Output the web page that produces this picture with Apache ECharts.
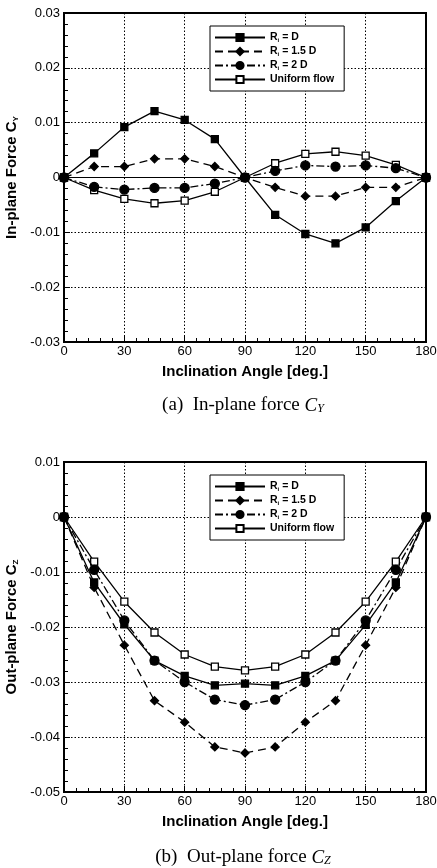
<!DOCTYPE html>
<html>
<head>
<meta charset="utf-8">
<script src="https://cdn.jsdelivr.net/npm/echarts@6/dist/echarts.min.js"></script>
<style>
  html, body { margin: 0; padding: 0; background: #fff; }
  #main { width: 437px; height: 868px; }
</style>
</head>
<body>
<div id="main"></div>
<script>
// 倾角数据
const angles = [0, 15, 30, 45, 60, 75, 90, 105, 120, 135, 150, 165, 180];

// (a) 面内力 C_Y
const cyRD   = [0, 0.0044, 0.0092, 0.0121, 0.0105, 0.0070, 0, -0.0068, -0.0103, -0.0120, -0.0091, -0.0043, 0];
const cyR15D = [0, 0.0020, 0.0020, 0.0034, 0.0034, 0.0020, 0, -0.0018, -0.0034, -0.0034, -0.0018, -0.0018, 0];
const cyR2D  = [0, -0.0017, -0.0022, -0.0019, -0.0019, -0.0011, 0, 0.0012, 0.0022, 0.0020, 0.0022, 0.0017, 0];
const cyUni  = [0, -0.0023, -0.0039, -0.0047, -0.0042, -0.0026, 0, 0.0026, 0.0043, 0.0047, 0.0040, 0.0023, 0];

// (b) 面外力 C_Z
const czRD   = [0, -0.0119, -0.0195, -0.0261, -0.0289, -0.0306, -0.0303, -0.0306, -0.0289, -0.0261, -0.0196, -0.0119, 0];
const czR15D = [0, -0.0128, -0.0233, -0.0334, -0.0373, -0.0418, -0.0429, -0.0418, -0.0373, -0.0334, -0.0233, -0.0128, 0];
const czR2D  = [0, -0.0096, -0.0188, -0.0261, -0.0300, -0.0332, -0.0342, -0.0332, -0.0300, -0.0261, -0.0188, -0.0096, 0];
const czUni  = [0, -0.0081, -0.0154, -0.0210, -0.0250, -0.0272, -0.0279, -0.0272, -0.0250, -0.0210, -0.0154, -0.0081, 0];

const seriesNames = ['Ri = D', 'Ri = 1.5 D', 'Ri = 2 D', 'Uniform flow'];
const legendLabels = {
  'Ri = D': '{b|R}{s|i}{b| = D}',
  'Ri = 1.5 D': '{b|R}{s|i}{b| = 1.5 D}',
  'Ri = 2 D': '{b|R}{s|i}{b| = 2 D}',
  'Uniform flow': '{b|Uniform flow}'
};

const FONT = 'Liberation Sans, Arial, sans-serif';
const SERIF = 'Liberation Serif, Times New Roman, serif';

const styles = [
  { symbol: 'rect', size: 7, fill: '#000', type: 'solid' },
  { symbol: 'diamond', size: 8, fill: '#000', type: [8, 5] },
  { symbol: 'circle', size: 9, fill: '#000', type: [8, 3, 2, 3] },
  { symbol: 'rect', size: 7, fill: '#fff', type: 'solid' }
];

const pairs = n => angles.map((a, i) => [a, n[i]]);

function makeSeries(dataSets, gi) {
  return dataSets.map((d, k) => ({
    name: seriesNames[k],
    type: 'line',
    xAxisIndex: gi,
    yAxisIndex: gi,
    data: pairs(d),
    symbol: styles[k].symbol,
    symbolSize: styles[k].size,
    showAllSymbol: true,
    lineStyle: { color: '#000', width: 1.3, type: styles[k].type },
    itemStyle: { color: styles[k].fill, borderColor: '#000', borderWidth: 1.3 },
    z: 10 - k,
    animation: false
  }));
}

function makeX(gi) {
  return {
    type: 'value', gridIndex: gi, min: 0, max: 180, interval: 30,
    name: 'Inclination Angle [deg.]', nameLocation: 'middle', nameGap: 22,
    nameTextStyle: { fontFamily: FONT, fontWeight: 'bold', fontSize: 15, color: '#000' },
    axisLine: { onZero: false, lineStyle: { color: '#000', width: 2 } },
    axisTick: { inside: true, length: 6, lineStyle: { color: '#000' } },
    minorTick: { show: true, splitNumber: 5, length: 4, lineStyle: { color: '#000' } },
    axisLabel: { fontFamily: FONT, fontSize: 13, color: '#000', margin: 3 },
    splitLine: { show: true, lineStyle: { color: '#000', type: [1.5, 2], width: 1 } }
  };
}

function makeY(gi, min, max, name) {
  return {
    type: 'value', gridIndex: gi, min: min, max: max, interval: 0.01,
    name: name, nameLocation: 'middle', nameGap: 35,
    nameTextStyle: {
      fontFamily: FONT, fontWeight: 'bold', fontSize: 15, color: '#000',
      rich: {
        b: { fontFamily: FONT, fontWeight: 'bold', fontSize: 15, color: '#000' },
        s: { fontFamily: FONT, fontWeight: 'bold', fontSize: 8, color: '#000', padding: [7, 0, 0, 0] }
      }
    },
    axisLine: { onZero: false, lineStyle: { color: '#000', width: 2 } },
    axisTick: { inside: true, length: 6, lineStyle: { color: '#000' } },
    minorTick: { show: true, splitNumber: 5, length: 4, lineStyle: { color: '#000' } },
    axisLabel: {
      fontFamily: FONT, fontSize: 13, color: '#000', margin: 4,
      formatter: v => (Math.abs(v) < 1e-9 ? '0' : +v.toFixed(2) + '')
    },
    splitLine: { show: true, lineStyle: { color: '#000', type: [1.5, 2], width: 1 } }
  };
}

function makeLegend(gi, topPx) {
  return {
    show: true,
    left: 210, top: topPx,
    orient: 'vertical',
    itemWidth: 50, itemHeight: 9, itemGap: 3,
    padding: [6, 10, 6, 4],
    borderColor: '#000', borderWidth: 1,
    backgroundColor: '#fff',
    data: seriesNames,
    formatter: n => legendLabels[n],
    textStyle: {
      fontFamily: FONT, fontWeight: 'bold', fontSize: 10.5, color: '#000',
      rich: {
        b: { fontFamily: FONT, fontWeight: 'bold', fontSize: 10.5, color: '#000' },
        s: { fontFamily: FONT, fontWeight: 'bold', fontSize: 6, color: '#000', padding: [5, 0, 0, 0] }
      }
    },
    selectedMode: false
  };
}

function caption(text, topPx) {
  return {
    text: text,
    left: 243, top: topPx, textAlign: 'center', padding: 0,
    textStyle: {
      fontWeight: 'normal',
      rich: {
        t: { fontFamily: SERIF, fontSize: 19, fontWeight: 'normal', color: '#000' },
        i: { fontFamily: SERIF, fontSize: 19, fontWeight: 'normal', fontStyle: 'italic', color: '#000' },
        s: { fontFamily: SERIF, fontSize: 12, fontWeight: 'normal', fontStyle: 'italic', color: '#000', padding: [6, 0, 0, 0] }
      }
    }
  };
}

const chart = echarts.init(document.getElementById('main'), null, { renderer: 'canvas' });

const upperSeries = makeSeries([cyRD, cyR15D, cyR2D, cyUni], 0);
// 零线（上图为实线）
upperSeries[0].markLine = {
  silent: true, symbol: 'none', label: { show: false },
  lineStyle: { color: '#000', type: 'solid', width: 1 },
  data: [{ yAxis: 0 }], animation: false
};

const gridBase = { show: true, borderColor: '#000', borderWidth: 2, backgroundColor: 'transparent', containLabel: false, outerBoundsMode: 'none' };

const option = {
  animation: false,
  backgroundColor: '#fff',
  title: [
    caption('{t|(a)  In-plane force }{i|C}{s|Y}', 396),
    caption('{t|(b)  Out-plane force }{i|C}{s|Z}', 848)
  ],
  legend: [makeLegend(0, 26), makeLegend(1, 475)],
  grid: [
    Object.assign({ left: 64, top: 13, width: 362, height: 329 }, gridBase),
    Object.assign({ left: 64, top: 462, width: 362, height: 330 }, gridBase)
  ],
  xAxis: [makeX(0), makeX(1)],
  yAxis: [
    makeY(0, -0.03, 0.03, '{b|In-plane Force C}{s|Y}'),
    makeY(1, -0.05, 0.01, '{b|Out-plane Force C}{s|Z}')
  ],
  series: upperSeries.concat(makeSeries([czRD, czR15D, czR2D, czUni], 1))
};

chart.setOption(option);
</script>
</body>
</html>
